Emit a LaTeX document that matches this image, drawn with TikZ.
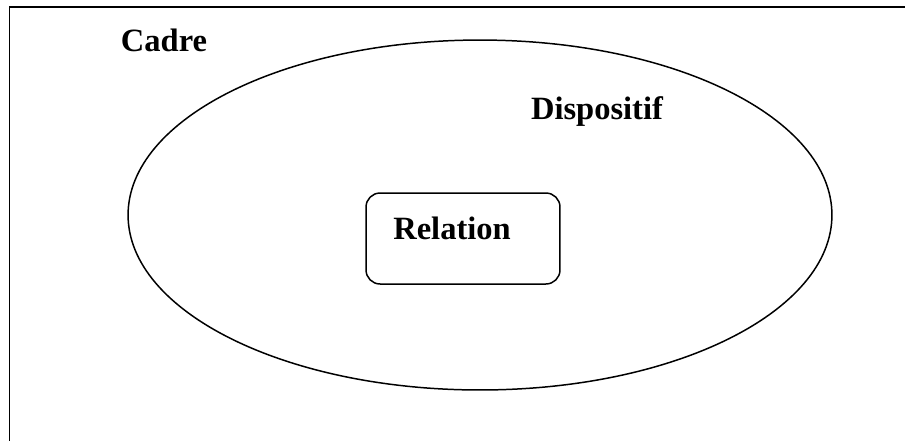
\documentclass[tikz,border=0pt]{standalone}
\usepackage{fontspec}
\setmainfont{Liberation Serif}
\usetikzlibrary{positioning,shapes.geometric}

\begin{document}
\begin{tikzpicture}[x=0.02cm, y=-0.02cm,
  frame/.style={line width=1.1pt, black},
  zone/.style={draw, ellipse, line width=0.85pt, minimum width=14.08cm, minimum height=7cm, inner sep=0pt},
  rbox/.style={draw, rounded corners=8pt, line width=0.85pt, minimum width=3.88cm, minimum height=1.82cm, inner sep=0pt},
  lbl/.style={font=\fontsize{18.5}{22}\selectfont\bfseries, inner sep=0pt}
]
  \useasboundingbox (0,0) rectangle (905,441);
  % cadre: only top and left edges visible
  \draw[frame] (905,7) -- (9.5,7) -- (9.5,441);
  \node[zone] (disp) at (480,215) {};
  \node[rbox] (rel)  at (463,238.5) {};

  \node[lbl] (cadre)  at (164,40)  {Cadre};
  \node[lbl] (dispo)  at (597,112) {Dispositif};
  \node[lbl] (relat)  at (452,228) {Relation};
\end{tikzpicture}
\end{document}
